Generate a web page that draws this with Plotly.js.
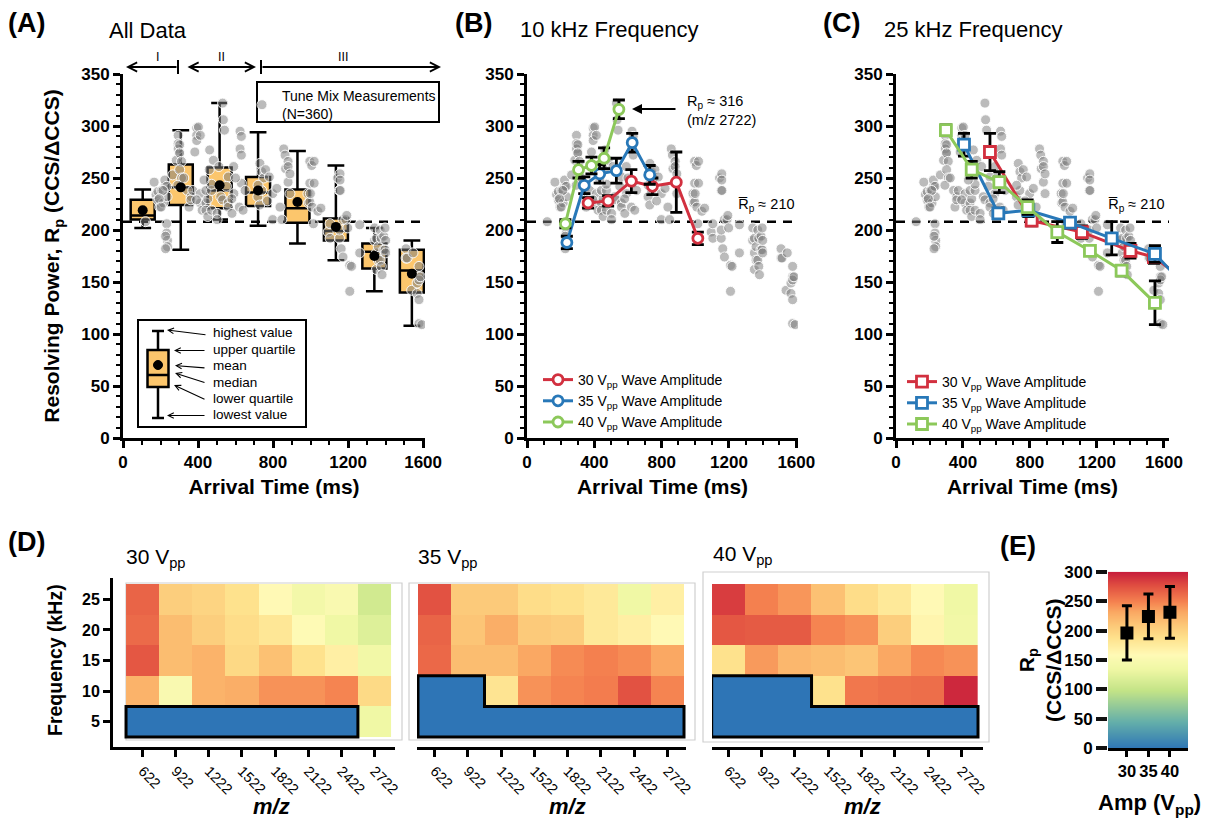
<!DOCTYPE html>
<html><head><meta charset="utf-8">
<script src="https://cdn.plot.ly/plotly-3.0.1.min.js"></script>
<style>html,body{margin:0;padding:0;background:#fff}#chart{width:1206px;height:820px}</style>
</head><body><div id="chart"></div>
<script>
// ================= DATA =================
// Tune mix measurements (arrival time ms, resolving power)
const scatterT = [120,166,176,186,196,186,196,206,215,225,235,223,233,213,193,203,233,233,237,237,227,227,
265,294,294,294,300,284,302,302,312,302,312,292,324,344,363,352,362,372,
393,393,393,383,402,412,413,412,392,422,442,442,452,452,442,472,472,462,482,472,432,460,
502,502,511,521,531,535,541,531,561,561,561,551,581,590,591,620,624,624,631,631,631,640,651,600,580,
719,729,739,730,740,750,760,780,720,798,798,837,847,857,864,867,880,880,880,890,890,820,770,
986,989,996,996,996,999,1006,1009,1015,1019,1019,1039,1055,1094,1104,1104,
1144,1154,1157,1157,1158,1154,1154,1163,1173,1173,1188,1193,1198,1209,1209,1218,1262,1262,
1341,1341,1351,1351,1351,1361,1361,1371,1371,1377,1377,1381,1390,1390,1397,1397,1400,1400,
1509,1509,1515,1539,1546,1568,1568,1578,1578,1578,1578,1578,1586,1593];
const scatterRp = [208,246,234,237,226,229,222,238,226,242,232,248,242,238,230,222,206,197,190,184,194,182,
253,291,283,278,274,267,282,274,266,258,250,243,250,238,232,222,229,238,
298,291,286,275,299,291,235,226,229,219,226,219,213,230,238,238,244,277,267,219,248,258,
216,210,261,232,322,306,296,229,226,251,222,242,216,261,235,222,295,278,290,272,245,219,238,250,230,
232,224,238,264,256,250,258,251,243,235,210,222,210,278,272,259,266,261,246,254,235,240,228,
235,226,266,245,227,235,262,222,206,266,245,218,221,198,206,192,
250,238,254,248,238,192,200,182,210,174,210,214,202,166,141,165,178,205,
202,190,192,178,162,184,171,200,171,192,165,157,194,181,202,181,190,178,
182,173,173,142,178,149,139,165,155,152,133,110,155,109];
const meanRp = 208;

// Panel A box statistics
const boxPos    = [105, 308, 515, 720, 930, 1135, 1340, 1540];
const boxLow    = [202, 181, 210, 204, 187, 171, 141, 108];
const boxQ1     = [210, 224, 221, 223, 207, 190, 163, 140];
const boxMedian = [214, 241, 238, 236, 221, 199, 179, 161];
const boxQ3     = [229, 263, 260, 251, 239, 211, 187, 181];
const boxHigh   = [239, 296, 322, 294, 276, 262, 202, 190];
const boxMean   = [219, 241, 243, 238, 227, 203, 175, 158];

// Panel B (10 kHz)
const b30T = [363, 482, 620, 745, 887, 1015];      const b30Rp = [226, 228, 247, 242, 246, 192]; const b30Err = [5, 5, 11, 8, 29, 6];
const b35T = [237, 340, 432, 531, 625, 729];       const b35Rp = [188, 243, 254, 257, 284, 253]; const b35Err = [6, 8, 9, 12, 9, 9];
const b40T = [228, 306, 383, 458, 546];            const b40Rp = [206, 258, 262, 269, 316]; const b40Err = [4, 8, 8, 10, 9];

// Panel C (25 kHz)
const c30T = [561, 810, 1110, 1400, 1540, 1680];          const c30Rp = [275, 209, 198, 180, 174, 157];      const c30Err = [18, 5, 6, 7, 6, 0];
const c35T = [406, 611, 790, 1039, 1288, 1546, 1680];     const c35Rp = [282, 216, 219, 207, 192, 177, 154]; const c35Err = [11, 5, 6, 5, 16, 8, 0];
const c40T = [298, 452, 617, 786, 963, 1158, 1347, 1546]; const c40Rp = [296, 258, 246, 222, 198, 180, 161, 130]; const c40Err = [5, 8, 10, 7, 10, 4, 5, 21];

// Panel D heatmaps (rows: 5, 10, 15, 20, 25 kHz; 0 = not resolved)
const mzValues = [622, 922, 1222, 1522, 1822, 2122, 2422, 2722];
const freqKHz = [5, 10, 15, 20, 25];
const rp30 = [
  [0, 0, 0, 0, 0, 0, 0, 135],
  [225, 150, 225, 228, 242, 242, 248, 195],
  [272, 218, 225, 196, 215, 188, 172, 138],
  [262, 218, 205, 192, 182, 158, 135, 120],
  [265, 205, 200, 188, 160, 140, 150, 110]
];
const rp35 = [
  [0, 0, 0, 0, 0, 0, 0, 0],
  [0, 0, 185, 242, 248, 252, 275, 248],
  [263, 218, 218, 232, 245, 250, 245, 232],
  [265, 212, 228, 208, 205, 180, 172, 160],
  [275, 208, 208, 192, 188, 180, 135, 172]
];
const rp40 = [
  [0, 0, 0, 0, 0, 0, 0, 0],
  [0, 0, 0, 188, 255, 258, 260, 295],
  [188, 238, 222, 218, 212, 232, 246, 242],
  [272, 270, 270, 248, 242, 205, 165, 138],
  [285, 250, 240, 215, 192, 180, 160, 135]
];

// Panel E
const ampVpp = [30, 35, 40];
const ampMeanRp = [196, 224, 231];
const ampSdRp = [46, 38, 44];
const cbTicks = [0, 50, 100, 150, 200, 250, 300];

// ================= STYLE / LAYOUT =================
const W = 1206, H = 820;
const FONT = 'Liberation Sans, Arial, sans-serif';
const K = '#000';
const domX = (a, b) => [a / W, b / W];
const domY = (top, bottom) => [1 - bottom / H, 1 - top / H];
const PX = v => v / W, PY = v => 1 - v / H;

const RED = '#D2303F', BLUE = '#2878B8', GREEN = '#8CC85A', ORANGE = '#FCC66C';
const RP_SCALE = [
  [0, 'rgb(46,117,182)'], [0.15, 'rgb(100,175,170)'], [0.33, 'rgb(195,228,135)'],
  [0.45, 'rgb(240,248,165)'], [0.53, 'rgb(255,250,182)'], [0.63, 'rgb(254,225,140)'],
  [0.7, 'rgb(252,200,120)'], [0.77, 'rgb(250,170,100)'], [0.83, 'rgb(245,130,80)'],
  [0.92, 'rgb(225,80,65)'], [1, 'rgb(200,30,60)']
];

const boldTick = {family: FONT, size: 17, weight: 'bold', color: K};
const axTitleFont = {family: FONT, size: 21, weight: 'bold', color: K};

function timeAxis(domain, range, anchor) {
  return {domain, range, anchor, showline: true, linewidth: 3, linecolor: K,
    ticks: 'outside', ticklen: 7, tickwidth: 3, tickcolor: K, tick0: 0, dtick: 400,
    minor: {ticks: 'outside', ticklen: 4, tickwidth: 2, tickcolor: K, dtick: 100},
    tickfont: boldTick, showgrid: false, zeroline: false,
    title: {text: 'Arrival Time (ms)', font: axTitleFont, standoff: 8}};
}
function rpAxis(domain, anchor, title) {
  const ax = {domain, range: [0, 350], anchor, showline: true, linewidth: 3, linecolor: K,
    ticks: 'outside', ticklen: 7, tickwidth: 3, tickcolor: K, tick0: 0, dtick: 50,
    minor: {ticks: 'outside', ticklen: 4, tickwidth: 2, tickcolor: K, dtick: 10},
    tickfont: boldTick, showgrid: false, zeroline: false};
  if (title) ax.title = {text: title, font: axTitleFont, standoff: 16};
  return ax;
}
function mzAxis(domain, range, anchor) {
  return {domain, range, anchor, showline: true, linewidth: 3, linecolor: K,
    ticks: 'outside', ticklen: 7, tickwidth: 3, tickcolor: K, tickvals: mzValues,
    tickangle: 45, tickfont: {family: FONT, size: 14.5, color: K}, showgrid: false, zeroline: false};
}
function freqAxis(domain, range, anchor, show) {
  return {domain, range, anchor, showline: show, linewidth: 3, linecolor: K,
    ticks: show ? 'outside' : '', ticklen: 7, tickwidth: 3, tickcolor: K, tickvals: freqKHz,
    showticklabels: show, tickfont: {family: FONT, size: 16, weight: 'bold', color: K}, showgrid: false, zeroline: false};
}

const yTop = 74, yBot = 438;
const dY = [578, 747];
const legFont = {family: FONT, size: 14, color: K};
const layout = {
  width: W, height: H, paper_bgcolor: '#fff', plot_bgcolor: 'rgba(0,0,0,0)',
  margin: {l: 0, r: 0, t: 0, b: 0, autoexpand: false},
  font: {family: FONT, color: K},
  xaxis: timeAxis(domX(123, 425), [0, 1610], 'y'),
  yaxis: rpAxis(domY(yTop, yBot), 'x', 'Resolving Power, R<sub>p</sub> (CCS/ΔCCS)'),
  xaxis2: timeAxis(domX(527, 798), [0, 1610], 'y2'),
  yaxis2: rpAxis(domY(yTop, yBot), 'x2'),
  xaxis3: timeAxis(domX(896, 1169), [0, 1630], 'y3'),
  yaxis3: rpAxis(domY(yTop, yBot), 'x3'),
  xaxis4: mzAxis(domX(113, 395), [354, 2908], 'y4'),
  yaxis4: freqAxis(domY(dY[0], dY[1]), [0.87, 28.48], 'x4', true),
  xaxis5: mzAxis(domX(417, 686), [463, 2890], 'y5'),
  yaxis5: freqAxis(domY(dY[0], dY[1]), [0.87, 28.48], 'x5', false),
  xaxis6: mzAxis(domX(712, 983), [475, 2917], 'y6'),
  yaxis6: freqAxis(domY(dY[0], dY[1]), [0.87, 28.48], 'x6', false),
  xaxis7: {domain: domX(1108, 1188), range: [25.6, 44.2], anchor: 'y7', showline: true, linewidth: 3, linecolor: K,
    ticks: 'outside', ticklen: 6, tickwidth: 3, tickcolor: K, tickvals: ampVpp,
    tickfont: {family: FONT, size: 16.5, weight: 'bold', color: K}, showgrid: false, zeroline: false},
  yaxis7: {domain: domY(571.7, 748.3), range: [0, 300], anchor: 'x7', showline: false,
    ticks: 'outside', ticklen: 11, tickwidth: 4, tickcolor: '#111', tickvals: cbTicks,
    tickfont: {family: FONT, size: 17, weight: 'bold', color: K}, showgrid: false, zeroline: false},
  coloraxis: {cmin: 0, cmax: 300, colorscale: RP_SCALE, showscale: false},
  legend: {x: PX(242), y: PY(80), xanchor: 'left', yanchor: 'top', borderwidth: 0, bgcolor: 'rgba(0,0,0,0)',
    font: legFont, itemwidth: 30},
  legend2: {x: PX(538), y: PY(364), xanchor: 'left', yanchor: 'top', bgcolor: 'rgba(0,0,0,0)', tracegroupgap: 0,
    font: legFont, itemwidth: 30},
  legend3: {x: PX(902), y: PY(366), xanchor: 'left', yanchor: 'top', bgcolor: 'rgba(0,0,0,0)', tracegroupgap: 0,
    font: legFont, itemwidth: 30},
  shapes: [], annotations: []
};

// ================= TRACES =================
const traces = [];
const grayMarker = {color: 'rgba(125,125,125,0.52)', size: 10, line: {color: 'rgba(255,255,255,0.9)', width: 1}};
[['x', 'y', true], ['x2', 'y2', false], ['x3', 'y3', false]].forEach(([xa, ya, leg]) => {
  traces.push({type: 'scatter', mode: 'markers', xaxis: xa, yaxis: ya, x: scatterT, y: scatterRp,
    marker: grayMarker, name: 'Tune Mix Measurements<br>(N=360)', legend: 'legend', showlegend: leg, hoverinfo: 'skip'});
});
traces.push({type: 'box', xaxis: 'x', yaxis: 'y', x: boxPos, q1: boxQ1, median: boxMedian, q3: boxQ3,
  lowerfence: boxLow, upperfence: boxHigh, width: 128, whiskerwidth: 0.7, fillcolor: ORANGE,
  line: {color: K, width: 2.5}, boxpoints: false, showlegend: false, hoverinfo: 'skip'});
traces.push({type: 'scatter', mode: 'markers', xaxis: 'x', yaxis: 'y', x: boxPos, y: boxMean,
  marker: {color: K, size: 10}, showlegend: false, hoverinfo: 'skip'});

function series(xa, ya, leg, x, y, err, color, symbol, label) {
  return {type: 'scatter', mode: 'lines+markers', xaxis: xa, yaxis: ya, x, y, legend: leg, name: label,
    line: {color, width: 3}, marker: {symbol, size: symbol === 'square' ? 11 : 10, color: '#fff', line: {color, width: 2.8}},
    error_y: {type: 'data', array: err, visible: true, color: K, thickness: 2.8, width: 6}, hoverinfo: 'skip'};
}
const lab = v => v + ' V<sub>pp</sub> Wave Amplitude';
traces.push(series('x2', 'y2', 'legend2', b30T, b30Rp, b30Err, RED, 'circle', lab(30)));
traces.push(series('x2', 'y2', 'legend2', b35T, b35Rp, b35Err, BLUE, 'circle', lab(35)));
traces.push(series('x2', 'y2', 'legend2', b40T, b40Rp, b40Err, GREEN, 'circle', lab(40)));
traces.push(series('x3', 'y3', 'legend3', c30T, c30Rp, c30Err, RED, 'square', lab(30)));
traces.push(series('x3', 'y3', 'legend3', c35T, c35Rp, c35Err, BLUE, 'square', lab(35)));
traces.push(series('x3', 'y3', 'legend3', c40T, c40Rp, c40Err, GREEN, 'square', lab(40)));

[[rp30, 'x4', 'y4'], [rp35, 'x5', 'y5'], [rp40, 'x6', 'y6']].forEach(([z, xa, ya]) => {
  traces.push({type: 'heatmap', xaxis: xa, yaxis: ya, x: mzValues, y: freqKHz, z, coloraxis: 'coloraxis', hoverinfo: 'skip'});
});
traces.push({type: 'heatmap', xaxis: 'x7', yaxis: 'y7', x: [ampVpp[0] - 3.5, ampVpp[ampVpp.length - 1] + 3.5],
  y: cbTicks, z: cbTicks.map(v => [v, v]), zsmooth: 'best', coloraxis: 'coloraxis', hoverinfo: 'skip'});
traces.push({type: 'scatter', mode: 'markers', xaxis: 'x7', yaxis: 'y7', x: ampVpp, y: ampMeanRp,
  marker: {symbol: 'square', size: 13, color: K},
  error_y: {type: 'data', array: ampSdRp, visible: true, color: K, thickness: 3, width: 5}, showlegend: false, hoverinfo: 'skip'});

// ================= SHAPES =================
const S = layout.shapes, A = layout.annotations;
[['x', 'y'], ['x2', 'y2'], ['x3', 'y3']].forEach(([xa, ya]) => {
  S.push({type: 'line', xref: xa + ' domain', yref: ya, x0: 0, x1: 1, y0: meanRp, y1: meanRp, layer: 'below',
    line: {color: K, width: 2.5, dash: '9px,7px'}});
});
// masked (unresolved) outline from data
function maskOutline(z, xa, ya) {
  const dx = mzValues[1] - mzValues[0], dy = freqKHz[1] - freqKHz[0];
  const h = mzValues.map((_, c) => { let n = 0; while (n < z.length && z[n][c] === 0) n++; return n; });
  const yb = freqKHz[0] - dy / 2;
  let d = '', started = false, lastR = 0;
  mzValues.forEach((m, c) => {
    if (h[c] > 0) {
      const l = m - dx / 2, r = m + dx / 2, t = yb + h[c] * dy;
      d += (started ? ` L ${l},${t}` : `M ${l},${yb} L ${l},${t}`) + ` L ${r},${t}`;
      started = true; lastR = r;
    }
  });
  d += ` L ${lastR},${yb} Z`;
  return {type: 'path', xref: xa, yref: ya, path: d, line: {color: K, width: 3}};
}
S.push(maskOutline(rp30, 'x4', 'y4'), maskOutline(rp35, 'x5', 'y5'), maskOutline(rp40, 'x6', 'y6'));
// light panel frames around heatmaps
[[126, 583, 402, 740], [409, 583, 695, 740], [703, 572, 989, 742]].forEach(([a, b, c, d]) => {
  S.push({type: 'rect', xref: 'paper', yref: 'paper', x0: PX(a), x1: PX(c), y0: PY(d), y1: PY(b), layer: 'below',
    line: {color: '#cfcfcf', width: 1.2}});
});
const pline = (x0, y0, x1, y1, w) => ({type: 'line', xref: 'paper', yref: 'paper', x0: PX(x0), y0: PY(y0), x1: PX(x1), y1: PY(y1), line: {color: K, width: w || 2}});
// legend frame for panel A
S.push({type: 'rect', xref: 'paper', yref: 'paper', x0: PX(257), x1: PX(439), y0: PY(122), y1: PY(82), line: {color: K, width: 2}, fillcolor: '#fff', layer: 'below'});
// region bars (I / III)
S.push(pline(178, 60, 178, 74, 2), pline(261, 60, 261, 74, 2));
// box-plot key
S.push({type: 'rect', xref: 'paper', yref: 'paper', x0: PX(138), x1: PX(306), y0: PY(427), y1: PY(320), line: {color: K, width: 2}, fillcolor: '#fff', layer: 'below'});
S.push(pline(158, 331, 158, 418, 2.5), pline(152, 331, 164, 331, 2.5), pline(152, 418, 164, 418, 2.5));
S.push({type: 'rect', xref: 'paper', yref: 'paper', x0: PX(147.5), x1: PX(168.5), y0: PY(387), y1: PY(350), line: {color: K, width: 2.5}, fillcolor: ORANGE});
S.push(pline(147.5, 375, 168.5, 375, 2.5));
S.push({type: 'circle', xref: 'paper', yref: 'paper', x0: PX(153.5), x1: PX(162.5), y0: PY(369.5), y1: PY(360.5), line: {color: K, width: 1}, fillcolor: K});

// ================= ANNOTATIONS =================
const ann = (text, x, y, font, o) => Object.assign({text, x: PX(x), y: PY(y), xref: 'paper', yref: 'paper', showarrow: false,
  xanchor: 'left', yanchor: 'middle', font: Object.assign({family: FONT, size: 13, color: K}, font || {})}, o || {});
const arrow = (tx, ty, sx, sy, o) => Object.assign({text: '', x: PX(tx), y: PY(ty), xref: 'paper', yref: 'paper',
  ax: sx - tx, ay: sy - ty, showarrow: true, arrowhead: 5, arrowsize: 1, arrowwidth: 1.5, arrowcolor: K}, o || {});

// panel labels and titles
const pl = {size: 27, weight: 'bold'};
A.push(ann('(A)', 6, 23, pl), ann('(B)', 453, 23, pl), ann('(C)', 821, 23, pl), ann('(D)', 6, 542, pl), ann('(E)', 998, 546, pl));
const tt = {size: 22};
A.push(ann('All Data', 148, 30, tt, {xanchor: 'center'}), ann('10 kHz Frequency', 609, 29, tt, {xanchor: 'center'}),
  ann('25 kHz Frequency', 973, 29, tt, {xanchor: 'center'}));

// region arrows
A.push(ann('I', 157, 57, {size: 12.5}, {xanchor: 'center'}), ann('II', 221, 57, {size: 12.5}, {xanchor: 'center'}), ann('III', 343, 57, {size: 12.5}, {xanchor: 'center'}));
A.push(arrow(126, 67, 178, 67, {arrowwidth: 1.8}));
A.push(arrow(256, 67, 186, 67, {arrowwidth: 1.8, arrowside: 'end+start', startarrowhead: 5}));
A.push(arrow(441, 67, 261, 67, {arrowwidth: 1.8}));

// box key labels
const keyLab = [['highest value', 332.5], ['upper quartile', 350], ['mean', 366], ['median', 382], ['lower quartile', 398], ['lowest value', 414]];
keyLab.forEach(([t, y]) => A.push(ann(t, 211, y, {size: 13.5})));
A.push(arrow(167, 330, 207, 335, {arrowwidth: 1.1}), arrow(174, 350.5, 206, 350.5, {arrowwidth: 1.1}),
  arrow(175, 365.5, 206, 368, {arrowwidth: 1.1}), arrow(175, 373, 206, 383, {arrowwidth: 1.1}),
  arrow(174, 385, 206, 400, {arrowwidth: 1.1}), arrow(167, 415.5, 206, 415.5, {arrowwidth: 1.1}));

// panel B/C notes
A.push(ann('R<sub>p</sub> ≈ 316<br>(m/z 2722)', 685, 110, {size: 14.5}, {align: 'left'}));
A.push(arrow(632, 109, 677, 109, {arrowhead: 2, arrowwidth: 2, arrowsize: 1}));
A.push(ann('R\u0305<sub>p</sub> ≈ 210', 736, 205, {size: 14.5}), ann('R\u0305<sub>p</sub> ≈ 210', 1106, 205, {size: 14.5}));

// panel D
const vt = {size: 21};
A.push(ann('30 V<sub>pp</sub>', 124, 558, vt), ann('35 V<sub>pp</sub>', 416, 558, vt), ann('40 V<sub>pp</sub>', 711, 555, vt));
const mzt = {size: 22, weight: 'bold', style: 'italic'};
A.push(ann('m/z', 271, 806, mzt, {xanchor: 'center'}), ann('m/z', 567, 806, mzt, {xanchor: 'center'}), ann('m/z', 862, 806, mzt, {xanchor: 'center'}));
A.push(ann('Frequency (kHz)', 55, 660, {size: 19.5, weight: 'bold'}, {xanchor: 'center', textangle: -90}));

// panel E
A.push(ann('R<sub>p</sub><br>(CCS/ΔCCS)', 1040, 660, {size: 21, weight: 'bold'}, {xanchor: 'center', textangle: -90, align: 'center'}));
A.push(ann('Amp (V<sub>pp</sub>)', 1149, 804, {size: 22, weight: 'bold'}, {xanchor: 'center'}));

Plotly.newPlot('chart', traces, layout, {displayModeBar: false, staticPlot: true});
</script>
</body></html>
